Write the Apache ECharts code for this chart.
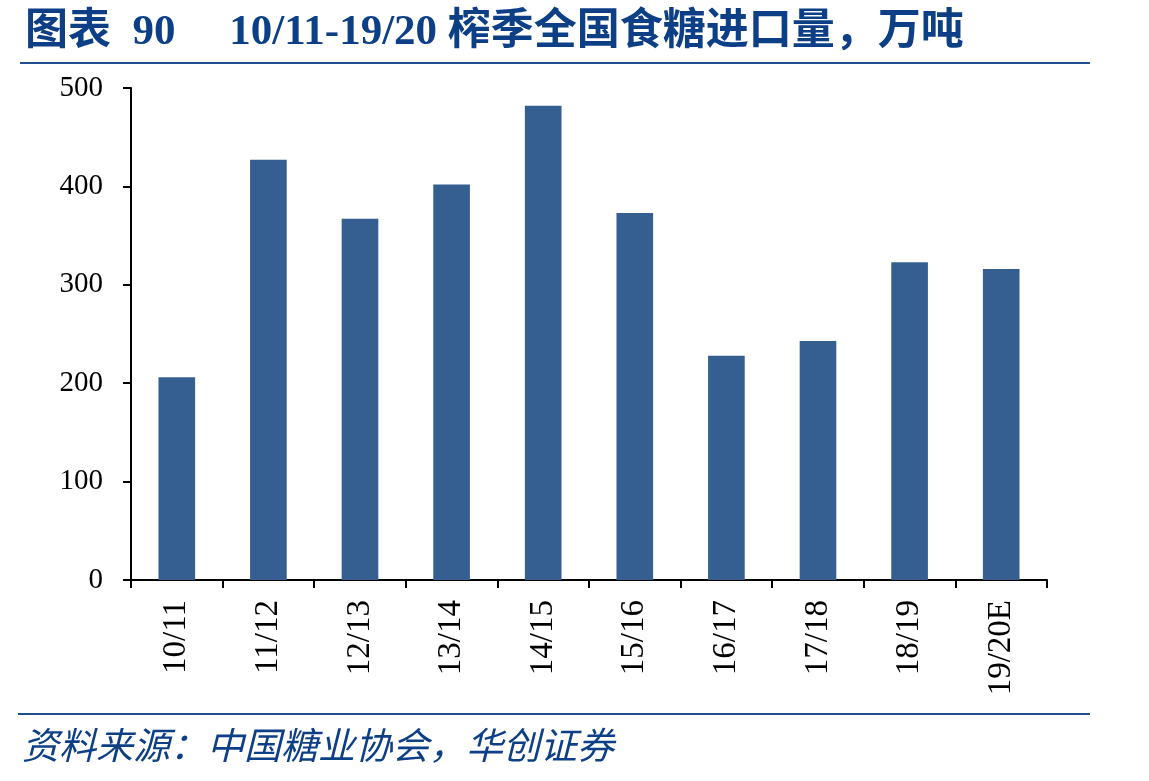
<!DOCTYPE html>
<html>
<head>
<meta charset="utf-8">
<script src="https://cdn.jsdelivr.net/npm/echarts@6/dist/echarts.min.js"></script>
<style>
  html, body { margin: 0; padding: 0; background: #fff; }
  #chart { width: 1149px; height: 781px; }
</style>
</head>
<body>
<div id="chart"></div>
<script>
// seasons and import volume (10k tonnes)
var seasons = ['10/11', '11/12', '12/13', '13/14', '14/15', '15/16', '16/17', '17/18', '18/19', '19/20E'];
var imports = [206, 427, 367, 402, 482, 373, 228, 243, 323, 316];
var yTicks = [0, 100, 200, 300, 400, 500];

var blue = '#0d3f87';
var chart = echarts.init(document.getElementById('chart'));

var option = {
    backgroundColor: '#fff',
    animation: false,
    title: {
        text: '图表  90     10/11-19/20 榨季全国食糖进口量，万吨',
        left: 20,
        top: 6,
        textStyle: {
            color: blue,
            fontSize: 43,
            fontWeight: 'bold',
            fontFamily: '"Liberation Serif", "Noto Sans CJK SC", serif'
        }
    },
    graphic: [
        // rule under the title
        {type: 'line', shape: {x1: 20, y1: 63, x2: 1090, y2: 63}, style: {stroke: '#1f4e91', lineWidth: 2}},
        // rule above the source
        {type: 'line', shape: {x1: 18, y1: 714, x2: 1090, y2: 714}, style: {stroke: '#1f4e91', lineWidth: 2}},
        {
            type: 'text', left: 22, top: 726,
            style: {
                text: '资料来源：中国糖业协会，华创证券',
                fill: blue,
                font: 'italic 37px "Noto Sans CJK SC", sans-serif'
            }
        }
    ],
    grid: {left: 131, right: 102, top: 88, bottom: 201},
    xAxis: {
        type: 'category',
        data: seasons,
        axisLine: {lineStyle: {color: '#000', width: 2}},
        axisTick: {show: true, length: 8, lineStyle: {color: '#000', width: 2}},
        axisLabel: {
            rotate: 90,
            margin: 20,
            color: '#000',
            fontSize: 33,
            fontFamily: '"Liberation Serif", serif'
        }
    },
    yAxis: {
        type: 'value',
        min: yTicks[0],
        max: yTicks[yTicks.length - 1],
        interval: 100,
        axisLine: {show: true, lineStyle: {color: '#000', width: 2}},
        axisTick: {show: true, length: 8, lineStyle: {color: '#000', width: 2}},
        splitLine: {show: false},
        axisLabel: {
            margin: 28,
            color: '#000',
            fontSize: 29,
            fontFamily: '"Liberation Serif", serif'
        }
    },
    series: [{
        type: 'bar',
        data: imports,
        barWidth: '40%',
        itemStyle: {color: '#365f91'}
    }]
};

chart.setOption(option);
</script>
</body>
</html>
